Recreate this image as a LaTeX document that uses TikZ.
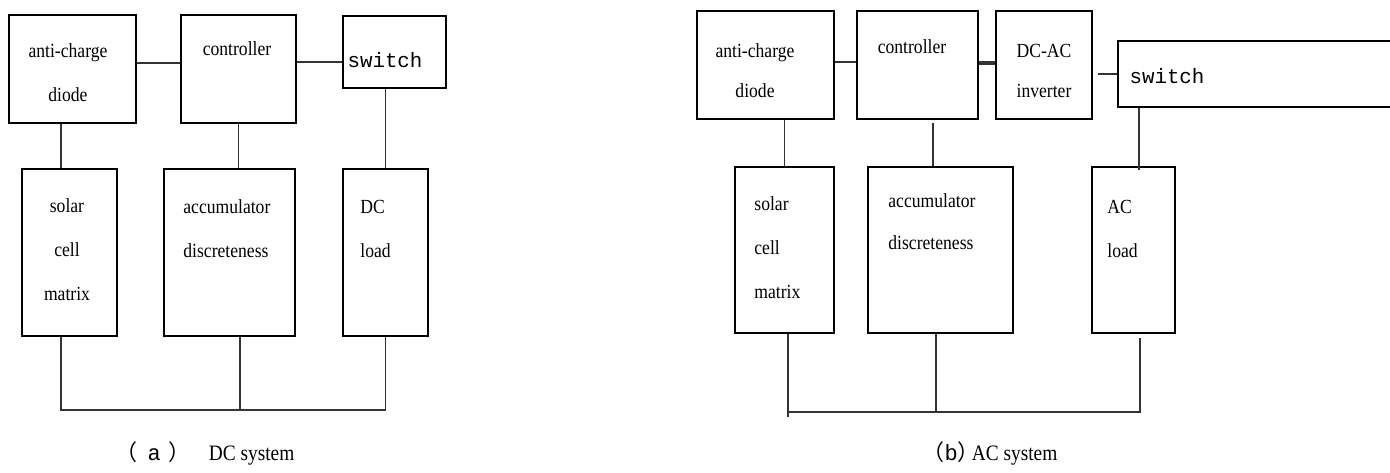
\documentclass[tikz,border=0pt]{standalone}
\usepackage{fontspec}
\setmainfont[FakeStretch=0.88]{Liberation Serif}
\setmonofont{Liberation Mono}
\newfontfamily\cjkfont{Noto Sans CJK SC}
\newcommand{\boxfont}{\fontsize{10}{22}\selectfont}
\newcommand{\capfont}{\fontsize{11}{13}\selectfont}

\begin{document}
\begin{tikzpicture}[
    x=0.5pt, y=-0.5pt,
    blk/.style={draw, line width=1pt, inner sep=0pt},
    wire/.style={line width=0.8pt, black!80},
    lbl/.style={inner sep=0pt, font=\boxfont, yshift=15.4pt},
    mono/.style={inner sep=0pt, anchor=base, font=\ttfamily\fontsize{10.4}{12}\selectfont},
    captxt/.style={inner sep=0pt, anchor=base, font=\capfont},
  ]
    \clip (0,0) rectangle (1390,472);

    % (a) DC system
    \node[blk, minimum width=63.5pt, minimum height=54pt] (dioA) at (72.5,69) {};
    \node[blk, minimum width=57.5pt, minimum height=54pt] (ctrlA) at (238.5,69) {};
    \node[blk, minimum width=51.5pt, minimum height=36pt] (swA) at (394.5,52) {};
    \node[blk, minimum width=47.5pt, minimum height=83.5pt] (solA) at (69.5,252.5) {};
    \node[blk, minimum width=65.5pt, minimum height=83.5pt] (accA) at (229.5,252.5) {};
    \node[blk, minimum width=42.5pt, minimum height=83.5pt] (ldA) at (385.5,252.5) {};

    \node[lbl, anchor=north, align=center] (tDioA) at (68,57) {\strut anti-charge\\diode};
    \node[lbl, anchor=north, align=center] (tCtrlA) at (237,55) {\strut controller};
    \node[mono] (tSwA) at (385,67) {switch};
    \node[lbl, anchor=north, align=center] (tSolA) at (67,212) {\strut solar\\cell\\matrix};
    \node[lbl, anchor=north west, align=left] (tAccA) at (183,213) {\strut accumulator\\discreteness};
    \node[lbl, anchor=north west, align=left] (tLdA) at (360,213) {\strut DC\\load};

    \draw[wire] ([yshift=3pt]dioA.east) -- ([yshift=3pt]ctrlA.west);
    \draw[wire] ([yshift=3.5pt]ctrlA.east) -- ([yshift=-5pt]swA.west);
    \draw[wire] (ldA.north |- swA.south) -- (ldA.north);
    \draw[wire] ([xshift=-4.25pt]solA.north |- dioA.south) -- ([xshift=-4.25pt]solA.north);
    \draw[wire] (ctrlA.south) -- (ctrlA.south |- accA.north);

    \coordinate (busA) at (240,410);
    \draw[wire] ([xshift=-4.25pt]solA.south) -- ([xshift=-4.25pt]solA.south |- busA) -| (ldA.south);
    \draw[wire] ([xshift=5.25pt]accA.south) -- (busA);

    \node[captxt] (capA) at (205,460) {{\cjkfont （}\hspace{5pt}\texttt{a}\hspace{4pt}{\cjkfont ）}\hspace{9pt}DC system};

    % (b) AC system
    \node[blk, minimum width=68.5pt, minimum height=54pt] (dioB) at (765.5,65) {};
    \node[blk, minimum width=60.5pt, minimum height=54pt] (ctrlB) at (917.5,65) {};
    \node[blk, minimum width=48pt, minimum height=54pt] (invB) at (1044,65) {};
    \node[blk, minimum width=141pt, minimum height=33pt] (swB) at (1259,74) {};
    \node[blk, minimum width=49.5pt, minimum height=83pt] (solB) at (784.5,250) {};
    \node[blk, minimum width=72.5pt, minimum height=83pt] (accB) at (940.5,250) {};
    \node[blk, minimum width=41.5pt, minimum height=83pt] (ldB) at (1133.5,250) {};

    \node[lbl, anchor=north, align=center] (tDioB) at (755,57) {\strut anti-charge\\[-2pt]diode};
    \node[lbl, anchor=north, align=center] (tCtrlB) at (912,53) {\strut controller};
    \node[lbl, anchor=north, align=center] (tInvB) at (1044,57) {\strut DC-AC\\[-2pt]inverter};
    \node[mono] (tSwB) at (1167,83) {switch};
    \node[lbl, anchor=north west, align=left] (tSolB) at (754,210) {\strut solar\\cell\\matrix};
    \node[lbl, anchor=north west, align=left] (tAccB) at (888,207) {\strut accumulator\\[-1pt]discreteness};
    \node[lbl, anchor=north west, align=left] (tLdB) at (1107,213) {\strut AC\\load};

    \draw[wire] ([yshift=1.5pt]dioB.east) -- ([yshift=1.5pt]ctrlB.west);
    \draw[wire, line width=1.6pt] ([yshift=1pt]ctrlB.east) -- ([yshift=1pt]invB.west);
    \draw[wire] ([xshift=2.5pt]invB.east |- swB.west) -- (swB.west);
    \draw[wire] (solB.north |- dioB.south) -- (solB.north);
    \draw[wire] ([xshift=-3.75pt, yshift=-1.5pt]accB.north |- ctrlB.south) -- ([xshift=-3.75pt]accB.north);
    \draw[wire] ([xshift=2.75pt]ldB.north |- swB.south) -- ([xshift=2.75pt, yshift=-2pt]ldB.north);

    \coordinate (busB) at (936,412);
    \draw[wire] ([xshift=1.75pt]solB.south) -- ([xshift=1.75pt, yshift=-2.5pt]solB.south |- busB);
    \draw[wire] ([xshift=1.75pt]solB.south |- busB) -| ([xshift=3.25pt, yshift=-2pt]ldB.south);
    \draw[wire] ([xshift=-2.25pt]accB.south) -- (busB);

    \node[captxt] (capB) at (990,460) {{\cjkfont （}\texttt{b}{\cjkfont ）}\hspace{-4pt}AC system};
  \end{tikzpicture}
\end{document}
